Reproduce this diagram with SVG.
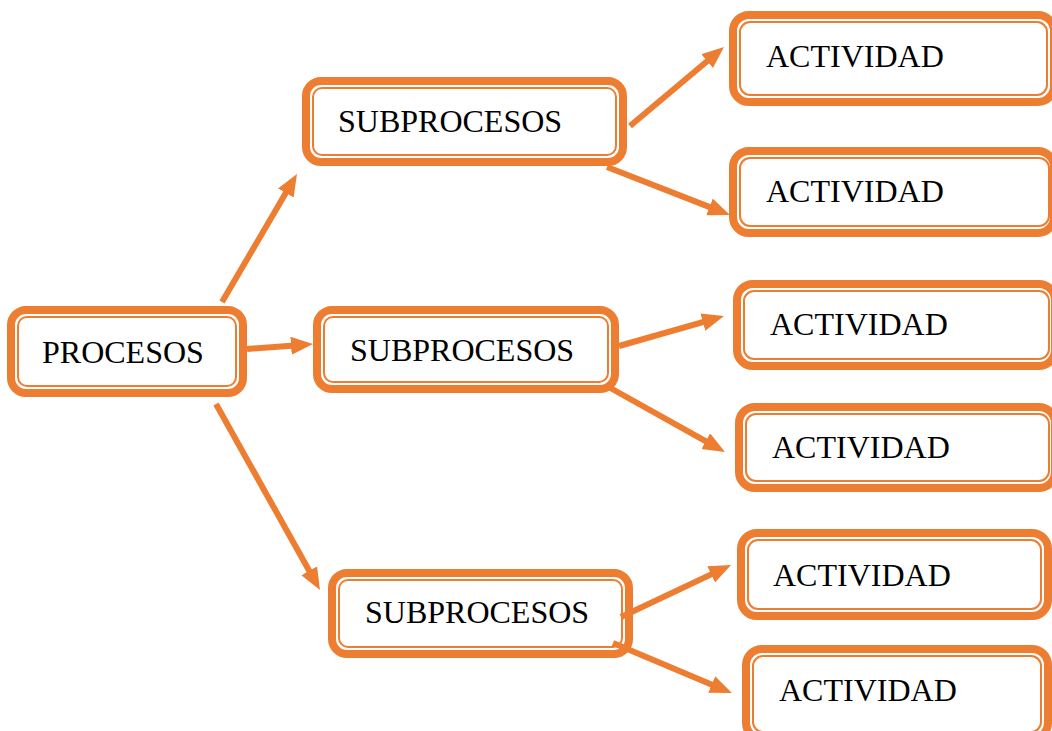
<svg xmlns="http://www.w3.org/2000/svg" width="1052" height="731" viewBox="0 0 1052 731">
  <style>
    .outer { fill: #ffffff; stroke: #ED7D31; stroke-width: 8; }
    .inner { fill: none; stroke: #ED7D31; stroke-width: 2; }
    .label { font-family: "Liberation Serif", "Times New Roman", serif; font-size: 32px; fill: #000000; }
    .link { fill: none; stroke: #ED7D31; stroke-width: 6; marker-end: url(#head); }
  </style>
  <defs>
    <marker id="head" markerUnits="userSpaceOnUse" markerWidth="24" markerHeight="20" refX="10" refY="9" orient="auto">
      <path d="M0,0 L22,9 L0,18 Z" fill="#ED7D31"/>
    </marker>
  </defs>
  <rect width="1052" height="731" fill="#ffffff"/>

  <g id="procesos">
    <rect class="outer" x="11" y="310" width="232" height="83" rx="15"/>
    <rect class="inner" x="18" y="317" width="218" height="69" rx="9"/>
    <text class="label" x="42" y="363">PROCESOS</text>
  </g>

  <g id="subprocesos-1">
    <rect class="outer" x="306" y="81" width="317" height="81" rx="15"/>
    <rect class="inner" x="313" y="88" width="303" height="67" rx="9"/>
    <text class="label" x="338" y="132">SUBPROCESOS</text>
  </g>
  <g id="subprocesos-2">
    <rect class="outer" x="317" y="310" width="298" height="79" rx="15"/>
    <rect class="inner" x="324" y="317" width="284" height="65" rx="9"/>
    <text class="label" x="350" y="361">SUBPROCESOS</text>
  </g>
  <g id="subprocesos-3">
    <rect class="outer" x="332" y="573" width="297" height="81" rx="15"/>
    <rect class="inner" x="339" y="580" width="283" height="67" rx="9"/>
    <text class="label" x="365" y="623">SUBPROCESOS</text>
  </g>

  <g id="actividad-1">
    <rect class="outer" x="733" y="15" width="321" height="87" rx="16"/>
    <rect class="inner" x="740" y="22" width="307" height="73" rx="10"/>
    <text class="label" x="766" y="67">ACTIVIDAD</text>
  </g>
  <g id="actividad-2">
    <rect class="outer" x="733" y="151" width="321" height="82" rx="16"/>
    <rect class="inner" x="740" y="158" width="309" height="68" rx="10"/>
    <text class="label" x="766" y="202">ACTIVIDAD</text>
  </g>
  <g id="actividad-3">
    <rect class="outer" x="737" y="284" width="318" height="82" rx="16"/>
    <rect class="inner" x="744" y="291" width="305" height="68" rx="10"/>
    <text class="label" x="770" y="335">ACTIVIDAD</text>
  </g>
  <g id="actividad-4">
    <rect class="outer" x="739" y="407" width="316" height="81" rx="16"/>
    <rect class="inner" x="746" y="414" width="303" height="67" rx="10"/>
    <text class="label" x="772" y="458">ACTIVIDAD</text>
  </g>
  <g id="actividad-5">
    <rect class="outer" x="741" y="533" width="307" height="83" rx="16"/>
    <rect class="inner" x="748" y="540" width="293" height="69" rx="10"/>
    <text class="label" x="773" y="586">ACTIVIDAD</text>
  </g>
  <g id="actividad-6">
    <rect class="outer" x="746" y="649" width="302" height="90" rx="16"/>
    <rect class="inner" x="753" y="656" width="288" height="76" rx="10"/>
    <text class="label" x="779" y="701">ACTIVIDAD</text>
  </g>

  <g id="connectors">
    <line class="link" x1="222" y1="302" x2="290.9" y2="184.3"/>
    <line class="link" x1="247" y1="349" x2="301.0" y2="344.9"/>
    <line class="link" x1="216" y1="404" x2="314.1" y2="579.5"/>
    <line class="link" x1="630" y1="126" x2="714.8" y2="54.7"/>
    <line class="link" x1="607" y1="167" x2="718.8" y2="210.6"/>
    <line class="link" x1="619" y1="346" x2="712.5" y2="319.3"/>
    <line class="link" x1="605" y1="385" x2="714.5" y2="446.1"/>
    <line class="link" x1="621" y1="617" x2="720.2" y2="570.1"/>
    <line class="link" x1="613" y1="643" x2="720.9" y2="688.4"/>
  </g>
</svg>
